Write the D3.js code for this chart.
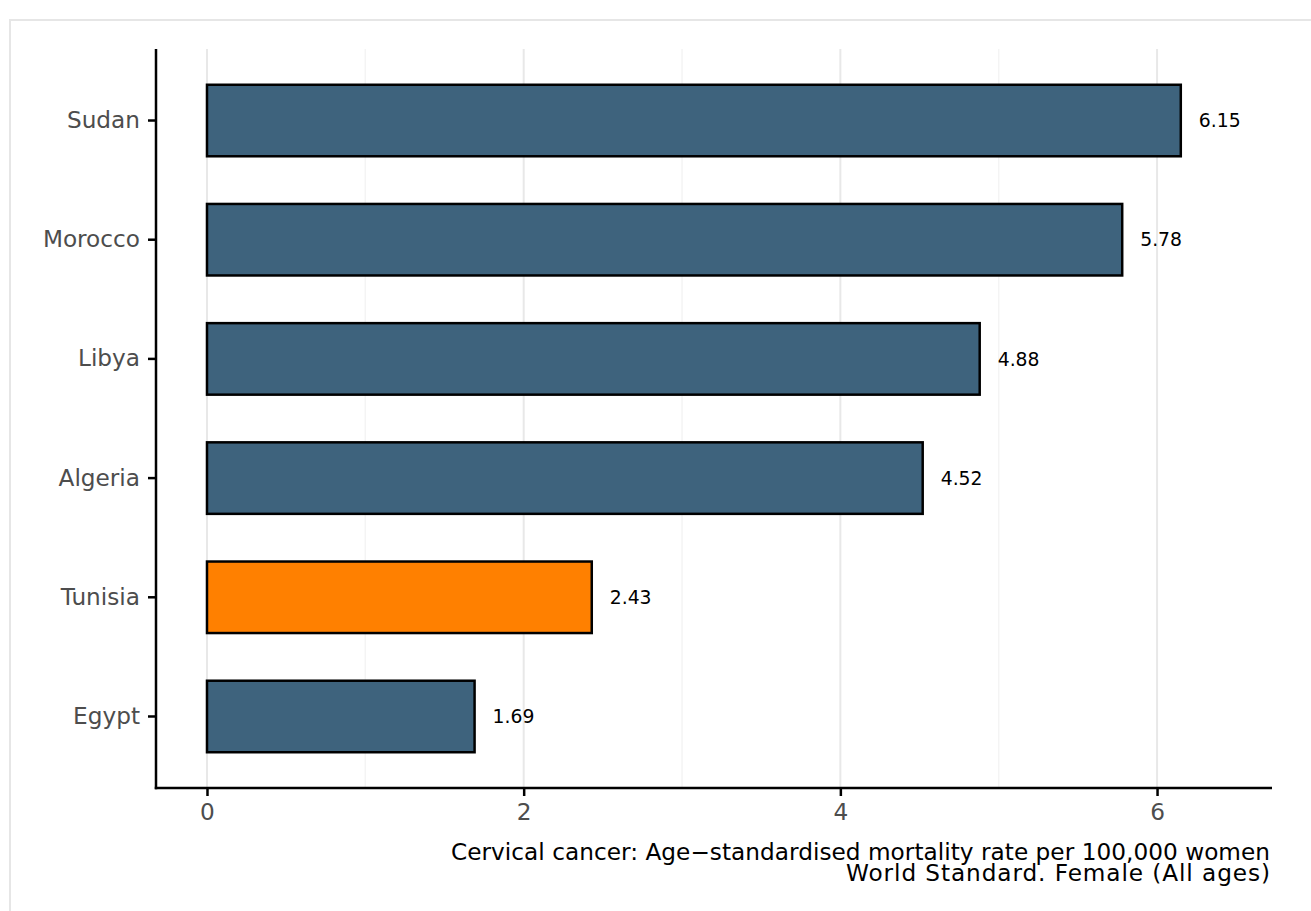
<!DOCTYPE html>
<html>
<head>
<meta charset="utf-8">
<script src="https://cdn.jsdelivr.net/npm/d3@7"></script>
<style>
  html, body { margin: 0; padding: 0; background: #fff; }
  svg { display: block; font-family: "DejaVu Sans", sans-serif; }
</style>
</head>
<body>
<svg id="chart" width="1311" height="911"></svg>
<script>
const countries = ["Sudan", "Morocco", "Libya", "Algeria", "Tunisia", "Egypt"];
const rates = [6.15, 5.78, 4.88, 4.52, 2.43, 1.69];
const highlight = ["Tunisia"];
const xTicks = [0, 2, 4, 6];
const xMinorTicks = [1, 3, 5];
const captionLines = [
  "Cervical cancer: Age\u2212standardised mortality rate per 100,000 women",
  "World Standard. Female (All ages)"
];

const data = countries.map((c, i) => ({ country: c, value: rates[i] }));

const svg = d3.select("#chart");
const W = 1311, H = 911;
const panel = { left: 156, right: 1272, top: 49, bottom: 788 };

// outer frame (light gray)
svg.append("rect")
  .attr("x", 10).attr("y", 20)
  .attr("width", W).attr("height", H)
  .attr("fill", "#fff")
  .attr("stroke", "#e6e6e6").attr("stroke-width", 2);

const x = d3.scaleLinear().domain([-0.322, 6.726]).range([panel.left, panel.right]);
const y = d3.scaleBand().domain(countries).range([panel.top, panel.bottom])
  .paddingInner(0.4).paddingOuter(0.3);

// gridlines
const grid = svg.append("g");
grid.selectAll("line.minor").data(xMinorTicks).join("line")
  .attr("class", "minor")
  .attr("x1", d => x(d)).attr("x2", d => x(d))
  .attr("y1", panel.top).attr("y2", panel.bottom)
  .attr("stroke", "#f4f4f4").attr("stroke-width", 1.5);
grid.selectAll("line.major").data(xTicks).join("line")
  .attr("class", "major")
  .attr("x1", d => x(d)).attr("x2", d => x(d))
  .attr("y1", panel.top).attr("y2", panel.bottom)
  .attr("stroke", "#e8e8e8").attr("stroke-width", 2);

// bars
svg.append("g").selectAll("rect").data(data).join("rect")
  .attr("x", x(0))
  .attr("y", d => y(d.country))
  .attr("width", d => x(d.value) - x(0))
  .attr("height", y.bandwidth())
  .attr("fill", d => highlight.includes(d.country) ? "#ff8000" : "#3e637d")
  .attr("stroke", "#000").attr("stroke-width", 2.5);

// value labels
svg.append("g").selectAll("text").data(data).join("text")
  .attr("x", d => x(d.value) + 18)
  .attr("y", d => y(d.country) + y.bandwidth() / 2)
  .attr("dy", "0.36em")
  .attr("font-size", 18.8)
  .attr("fill", "#000")
  .text(d => d.value.toFixed(2));

// axes
const xAxis = svg.append("g")
  .attr("transform", `translate(0,${panel.bottom})`)
  .call(d3.axisBottom(x).tickValues(xTicks).tickFormat(d3.format("d")).tickSize(8).tickPadding(8).tickSizeOuter(0));
const yAxis = svg.append("g")
  .attr("transform", `translate(${panel.left},0)`)
  .call(d3.axisLeft(y).tickSize(8).tickPadding(8).tickSizeOuter(0));

[xAxis, yAxis].forEach(a => {
  a.select(".domain").remove();
  a.selectAll(".tick line").attr("stroke", "#000").attr("stroke-width", 2.5);
  a.selectAll(".tick text").attr("fill", "#4d4d4d").attr("font-size", 23.2)
    .attr("font-family", "DejaVu Sans, sans-serif");
});

// axis lines
svg.append("line")
  .attr("x1", panel.left).attr("x2", panel.left)
  .attr("y1", panel.top).attr("y2", panel.bottom + 1.25)
  .attr("stroke", "#000").attr("stroke-width", 2.5);
svg.append("line")
  .attr("x1", panel.left - 1.25).attr("x2", panel.right)
  .attr("y1", panel.bottom).attr("y2", panel.bottom)
  .attr("stroke", "#000").attr("stroke-width", 2.5);

// caption
const capWidths = [819, 424];
svg.append("g").selectAll("text").data(captionLines).join("text")
  .attr("x", 1270)
  .attr("y", (d, i) => 860 + i * 21)
  .attr("text-anchor", "end")
  .attr("font-size", 23.2)
  .attr("textLength", (d, i) => capWidths[i])
  .attr("lengthAdjust", "spacing")
  .attr("fill", "#000")
  .text(d => d);
</script>
</body>
</html>
